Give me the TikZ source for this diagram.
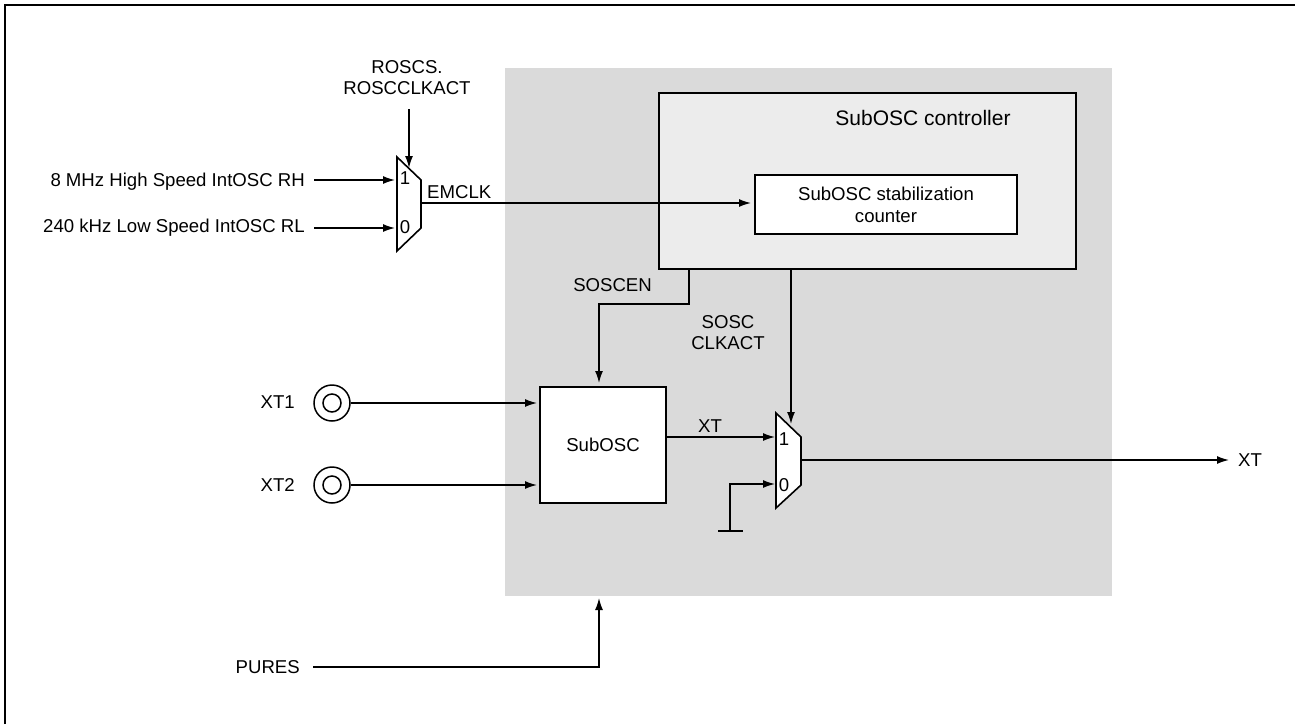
\documentclass[tikz,border=0pt]{standalone}
\usepackage{fontspec}
\setmainfont{Liberation Sans}
\usetikzlibrary{arrows.meta}
\definecolor{panelgray}{HTML}{DADADA}
\definecolor{ctrlfill}{HTML}{ECECEC}
\tikzset{
  every node/.style={font=\fontsize{18.6}{21}\selectfont,inner sep=0pt},
  sig/.style={line width=1.4pt,-{Latex[length=12pt,width=8pt]}},
  wire/.style={line width=1.4pt},
  block/.style={draw,line width=2pt,fill=white},
  pin/.style={circle,draw,line width=1.5pt,minimum size=36pt,fill=white},
  muxshape/.style={draw,line width=1.6pt,fill=white,line join=miter}
}
\begin{document}
\begin{tikzpicture}[x=1pt,y=-1pt]
\useasboundingbox (0,0) rectangle (1299,724);
\draw[line width=2.4pt] (5,724)--(5,5)--(1295,5);
\fill[panelgray] (505,68) rectangle (1112,596);
% controller
\node[block,fill=ctrlfill,anchor=north west,minimum width=417pt,minimum height=176pt] (ctrl) at (658,92) {};
\node[anchor=center,font=\fontsize{21}{24}\selectfont] (ctrltxt) at (923,118) {SubOSC controller};
\node[block,anchor=north west,minimum width=262pt,minimum height=59pt,align=center,font=\fontsize{18.6}{22}\selectfont] (cnt) at (754,174) {SubOSC stabilization\\counter};
\node[block,anchor=north west,minimum width=126pt,minimum height=116pt] (sub) at (539,386) {SubOSC};
% mux
\draw[muxshape] (397,157)--(421,180)--(421,228)--(397,251)--cycle;
\draw[muxshape] (776,413)--(801,437)--(801,485)--(776,508)--cycle;
\node (m1a) at (405,178) {1};
\node (m1b) at (405,227) {0};
\node (m2a) at (784,439) {1};
\node (m2b) at (784,485) {0};
\coordinate (m1in) at (395,180);
\coordinate (m1inb) at (395,228);
\coordinate (m1top) at (409,168);
\coordinate (m1out) at (421,203);
\coordinate (m2in) at (775,437);
\coordinate (m2inb) at (775,484);
\coordinate (m2top) at (791,424);
\coordinate (m2out) at (801,460);
% left side
\node[anchor=east] (rh) at (305,182) {8 MHz High Speed IntOSC RH};
\node[anchor=east] (rl) at (305,228) {240 kHz Low Speed IntOSC RL};
\node[align=center] (rsel) at (407,78) {ROSCS.\\ROSCCLKACT};
\draw[sig] (409,109)--(m1top);
\draw[sig] (314,180)--(m1in);
\draw[sig] (314,228)--(m1inb);
\node[anchor=west] (emclk) at (427,192) {EMCLK};
\draw[sig] (m1out)--(751,203);
% pins
\node[anchor=east] (xt1) at (295,402) {XT1};
\node[anchor=east] (xt2) at (295,485) {XT2};
\node[pin] (p1) at (332,403) {};
\node[pin] (p2) at (332,485) {};
\draw[line width=1.5pt] (p1.center) circle (9pt);
\draw[line width=1.5pt] (p2.center) circle (9pt);
\draw[sig] (p1.east)--(537,403);
\draw[sig] (p2.east)--(537,485);
% middle
\node[anchor=east] (soscen) at (652,285) {SOSCEN};
\draw[sig] (689,268)--(689,304)--(599,304)--(599,383);
\node[align=center] (clkact) at (728,333) {SOSC\\CLKACT};
\draw[sig] (791,268)--(m2top);
\node (xtin) at (710,426) {XT};
\draw[sig] (665,437)--(m2in);
\draw[sig] (730,531)--(730,484)--(m2inb);
\draw[wire] (718,531)--(743,531);
\node[anchor=west] (xtout) at (1238,460) {XT};
\draw[sig] (m2out)--(1229,460);
% reset
\node[anchor=east] (pures) at (300,667) {PURES};
\draw[sig] (313,667)--(599,667)--(599,598);
\end{tikzpicture}
\end{document}
